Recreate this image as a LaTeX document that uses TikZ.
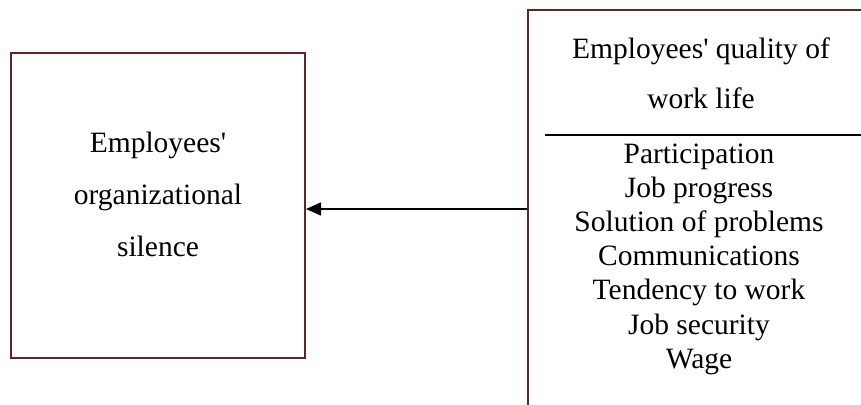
\documentclass[tikz,border=0pt]{standalone}
\usepackage{fontspec}
\setmainfont{Liberation Serif}
\usetikzlibrary{arrows.meta}
\definecolor{boxred}{RGB}{99,36,35}
\begin{document}
\begin{tikzpicture}[x=1pt,y=-1pt,
  box/.style={draw=boxred, line width=2pt, inner sep=0pt, fill=none},
  txt/.style={anchor=base, inner sep=0pt, font=\fontsize{29.5}{34}\selectfont},
  conn/.style={-{Triangle[length=15pt,width=13pt]}, line width=1.5pt},
  rule/.style={line width=2pt}]
\useasboundingbox (0,0) rectangle (861,404);
\clip (0,0) rectangle (861,404);
\fill[white] (0,0) rectangle (861,404);
% boxes
\node[box, minimum width=294pt, minimum height=305pt] (lbox) at (158,205.5) {};
\node[box, minimum width=346pt, minimum height=430pt] (rbox) at (701,225) {};
% left text
\node[txt] (l1) at (158,152) {Employees\textquotesingle};
\node[txt] (l2) at (158,204) {organizational};
\node[txt] (l3) at (158,256) {silence};
% right header
\node[txt] (h1) at (701,59) {Employees\textquotesingle{} quality of};
\node[txt] (h2) at (701,108) {work life};
% divider
\coordinate (dl) at (545,135);
\draw[rule] (dl) -- (dl -| rbox.east);
% right list
\node[txt] (r1) at (699,163.0) {Participation};
\node[txt] (r2) at (699,197.2) {Job progress};
\node[txt] (r3) at (699,231.4) {Solution of problems};
\node[txt] (r4) at (699,265.6) {Communications};
\node[txt] (r5) at (699,299.8) {Tendency to work};
\node[txt] (r6) at (699,334.0) {Job security};
\node[txt] (r7) at (699,368.2) {Wage};
% connector
\coordinate (ay) at (0,209);
\draw[conn] (rbox.west |- ay) -- (lbox.east |- ay);
\end{tikzpicture}
\end{document}
